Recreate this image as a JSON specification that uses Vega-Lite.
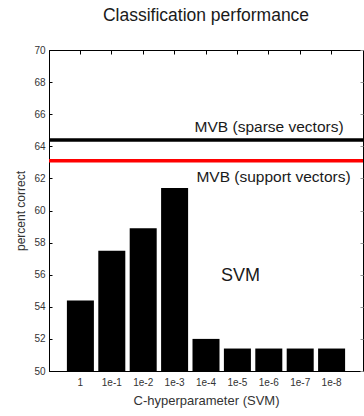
{
  "$schema": "https://vega.github.io/schema/vega-lite/v6.json",
  "width": 314,
  "height": 321,
  "autosize": "none",
  "padding": {"left": 49, "top": 50, "right": 1, "bottom": 45},
  "background": "white",
  "title": {
    "text": "Classification performance",
    "fontSize": 17.5,
    "font": "Liberation Sans",
    "fontWeight": "normal",
    "color": "#1a1a1a",
    "anchor": "middle",
    "offset": 21
  },
  "config": {
    "font": "Liberation Sans",
    "view": {"stroke": "black", "strokeWidth": 1},
    "axis": {
      "domainColor": "black",
      "tickColor": "black",
      "labelColor": "#333",
      "titleColor": "#333",
      "labelFont": "Liberation Sans",
      "titleFont": "Liberation Sans",
      "titleFontWeight": "normal",
      "labelFontSize": 10,
      "grid": false
    }
  },
  "datasets": {
    "svm": [
      {"C": "1", "pct": 54.4},
      {"C": "1e-1", "pct": 57.5},
      {"C": "1e-2", "pct": 58.9},
      {"C": "1e-3", "pct": 61.4},
      {"C": "1e-4", "pct": 52.0},
      {"C": "1e-5", "pct": 51.4},
      {"C": "1e-6", "pct": 51.4},
      {"C": "1e-7", "pct": 51.4},
      {"C": "1e-8", "pct": 51.4}
    ],
    "mvb": [
      {"method": "MVB (sparse vectors)", "pct": 64.4, "color": "black"},
      {"method": "MVB (support vectors)", "pct": 63.1, "color": "red"}
    ]
  },
  "resolve": {"axis": {"x": "independent", "y": "independent"}},
  "layer": [
    {
      "data": {"name": "svm"},
      "mark": {"type": "bar", "color": "black"},
      "encoding": {
        "x": {
          "field": "C",
          "type": "ordinal",
          "sort": null,
          "scale": {
            "domain": ["1", "1e-1", "1e-2", "1e-3", "1e-4", "1e-5", "1e-6", "1e-7", "1e-8"],
            "paddingInner": 0.14,
            "paddingOuter": 0.57
          },
          "axis": {
            "title": "C-hyperparameter (SVM)",
            "titleFontSize": 13,
            "titlePadding": 7,
            "labelAngle": 0,
            "ticks": false,
            "labelPadding": 6
          }
        },
        "y": {
          "field": "pct",
          "type": "quantitative",
          "scale": {"domain": [50, 70], "nice": false, "zero": false},
          "axis": {
            "title": "percent correct",
            "titleFontSize": 12,
            "titlePadding": 6,
            "values": [50, 52, 54, 56, 58, 60, 62, 64, 66, 68, 70],
            "tickSize": -3,
            "labelPadding": 7
          }
        },
        "y2": {"datum": 50}
      }
    },
    {
      "data": {"name": "svm"},
      "mark": {"type": "bar", "opacity": 0},
      "encoding": {
        "x": {
          "field": "C",
          "type": "ordinal",
          "sort": null,
          "axis": {
            "orient": "top",
            "labels": false,
            "title": null,
            "domain": false,
            "ticks": true,
            "offset": -4,
            "tickSize": 4,
            "tickWidth": 1
          }
        },
        "y": {"field": "pct", "type": "quantitative", "axis": null},
        "y2": {"datum": 50}
      }
    },
    {
      "data": {"name": "mvb"},
      "mark": {"type": "rule", "strokeWidth": 3.5},
      "encoding": {
        "y": {
          "field": "pct",
          "type": "quantitative",
          "axis": {
            "orient": "right",
            "labels": false,
            "title": null,
            "domain": false,
            "values": [50, 52, 54, 56, 58, 60, 62, 64, 66, 68, 70],
            "offset": -3,
            "tickSize": 3,
            "tickColor": "#999"
          }
        },
        "color": {"field": "color", "type": "nominal", "scale": null}
      }
    },
    {
      "data": {"name": "mvb"},
      "transform": [{"filter": "datum.method === 'MVB (sparse vectors)'"}],
      "mark": {"type": "text", "align": "right", "baseline": "middle", "dx": 12, "dy": -13, "fontSize": 15.5, "color": "#1a1a1a"},
      "encoding": {
        "x": {"datum": "1e-8", "type": "ordinal", "axis": null},
        "y": {"field": "pct", "type": "quantitative", "axis": null},
        "text": {"field": "method"}
      }
    },
    {
      "data": {"name": "mvb"},
      "transform": [{"filter": "datum.method === 'MVB (support vectors)'"}],
      "mark": {"type": "text", "align": "right", "baseline": "middle", "dx": 19, "dy": 16, "fontSize": 15.5, "color": "#1a1a1a"},
      "encoding": {
        "x": {"datum": "1e-8", "type": "ordinal", "axis": null},
        "y": {"field": "pct", "type": "quantitative", "axis": null},
        "text": {"field": "method"}
      }
    },
    {
      "data": {"values": [{"label": "SVM", "C": "1e-5", "pct": 55.9}]},
      "mark": {"type": "text", "align": "center", "baseline": "middle", "dx": 3, "fontSize": 18, "color": "#1a1a1a"},
      "encoding": {
        "x": {"field": "C", "type": "ordinal", "axis": null},
        "y": {"field": "pct", "type": "quantitative", "axis": null},
        "text": {"field": "label"}
      }
    }
  ]
}
